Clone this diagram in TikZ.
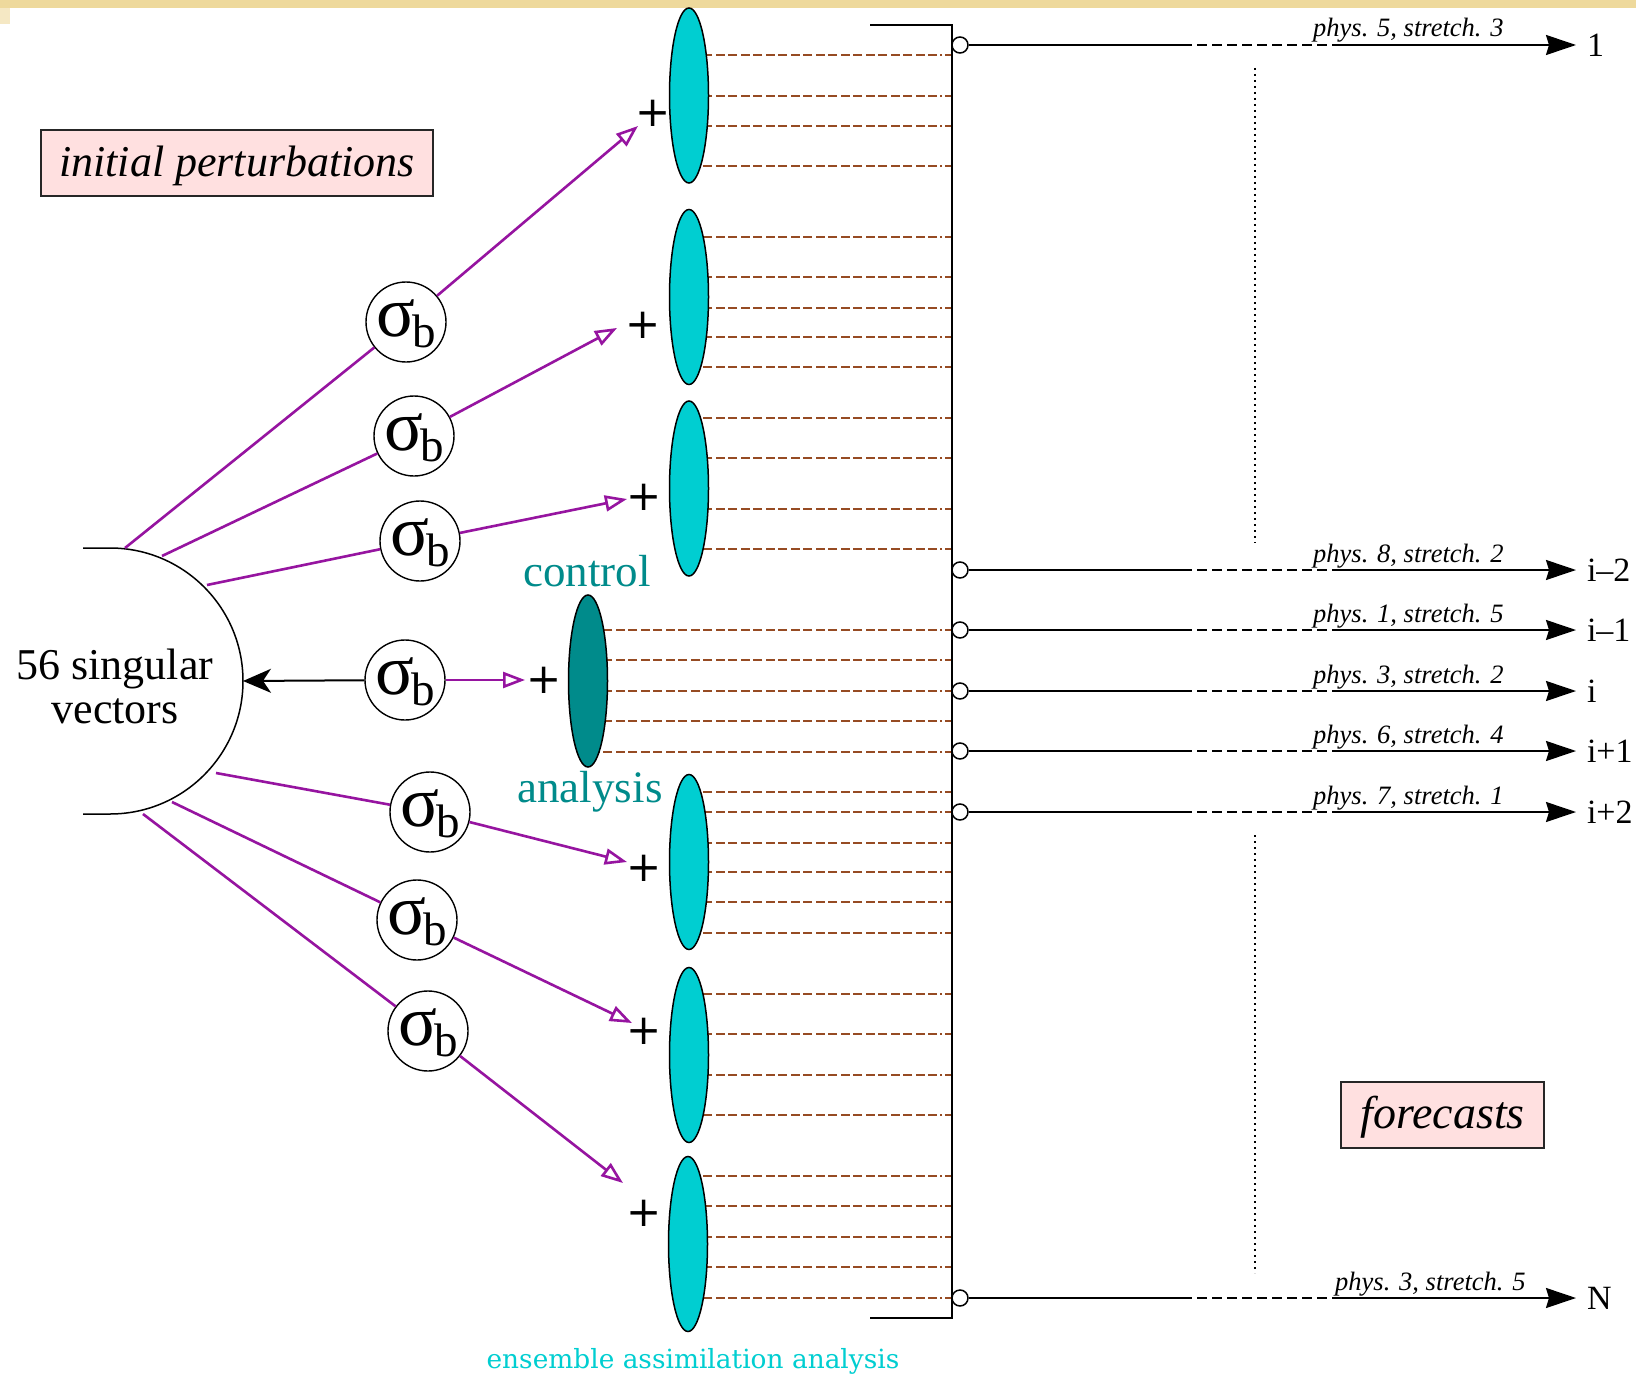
\documentclass[tikz,border=0pt]{standalone}
\usepackage{fontspec}
\setmainfont{Liberation Serif}
\newfontfamily\dvsans{DejaVu Sans}
\newfontfamily\dvserif{DejaVu Serif}
\usetikzlibrary{arrows.meta,shapes.geometric}
\definecolor{ecyan}{RGB}{0,206,209}
\definecolor{edark}{RGB}{0,139,139}
\definecolor{ebrown}{RGB}{150,75,35}
\definecolor{epurple}{RGB}{150,20,160}
\definecolor{epink}{RGB}{255,224,224}
\definecolor{eband}{RGB}{238,217,156}
\newcommand{\fs}[1]{\fontsize{#1}{#1}\selectfont}
\newcommand{\sigb}{{\fs{72}σ}\kern-3pt\raisebox{-11pt}{\fs{47}b}}
\newcommand{\brline}[2]{%
  \draw[brn] (952,#1) -- (945,#1);
  \draw[brn] (942,#1) -- (940,#1);
  \draw[brn, dash pattern=on 9pt off 3.5pt] (937,#1) -- (#2,#1);}
\newcommand{\outrow}[5]{%
  \node[outc] (o#1) at (960,#2) {};
  \coordinate (a#1) at (1182,#2);
  \coordinate (b#1) at (1335,#2);
  \node[endl] (r#1) at (1576,#2) {#5};
  \draw[oln] (o#1) -- (a#1);
  \draw[oln, dash pattern=on 10pt off 5pt] (a#1) -- (b#1);
  \draw[oln, -{Stealth[length=30pt,width=20pt,inset=3pt]}] (b#1) -- (r#1.west);
  \node[labn] (l#1) at (#3,#2-8) {#4};}
\begin{document}
\begin{tikzpicture}[x=1pt,y=-1pt,
  ens/.style={ellipse, draw=black, line width=1.5pt, fill=ecyan, minimum width=39pt, minimum height=175pt, inner sep=0pt},
  ensd/.style={ens, fill=edark, minimum height=172pt},
  sigc/.style={circle, draw=black, line width=1.4pt, minimum size=80pt, inner sep=0pt, text height=31pt, text depth=3pt},
  pl/.style={font=\dvsans\fs{42}, inner sep=0pt},
  purp/.style={draw=epurple, line width=2.6pt},
  parr/.style={purp, -{Triangle[open, length=22pt, width=16pt]}},
  barr/.style={draw=black, line width=2pt, -{Stealth[length=28pt,width=24pt,inset=8pt]}},
  brn/.style={draw=ebrown, line width=2.6pt},
  outc/.style={circle, draw=black, line width=1.5pt, minimum size=16pt, inner sep=0pt, fill=white},
  oln/.style={draw=black, line width=2pt},
  endl/.style={anchor=west, inner sep=0pt, outer sep=11pt, font=\fs{34}},
  labn/.style={anchor=base west, inner sep=0pt, font=\itshape\fs{26.5}},
  dotl/.style={draw=black, line width=1.6pt, dash pattern=on 2pt off 4pt},
  pbox/.style={draw=black!85, line width=1.5pt, fill=epink, inner sep=0pt}
]
\useasboundingbox (0,0) rectangle (1636,1375);
\fill[white] (0,0) rectangle (1636,1375);
\fill[eband] (0,0) rectangle (1636,8);
\fill[eband!60] (0,8) rectangle (10,24);

% brown hatch lines
\foreach \y in {55,96,126,166,237,277,308,337,367,418,458,509,549,792,812,843,872,902,933,994,1034,1075,1115,1176,1206,1237,1267,1298} {\brline{\y}{689}}
\foreach \y in {630,660,691,721,752} {\brline{\y}{588}}

% ellipses
\node[ens] (e1) at (689,95.5) {};
\node[ens] (e2) at (689,297) {};
\node[ens] (e3) at (689,488.5) {};
\node[ensd] (ed) at (588,681) {};
\node[ens] (e4) at (689,862) {};
\node[ens] (e5) at (689,1055) {};
\node[ens] (e6) at (688,1244) {};

% bar
\draw[line width=2pt] (870,25) -- (952,25) -- (952,1318) -- (870,1318);

% singular vectors half circle
\draw[line width=1.5pt] (83,548) -- (110,548) arc[start angle=-90, end angle=90, radius=133] -- (83,814);
\coordinate (svR) at (243,681);
\node[font=\fs{44}, align=center, inner sep=0pt, baseline=38pt] (sv) at (115,686) {\fontsize{44}{38}\selectfont 56 singular\\vectors};

% sigma circles
\node[sigc] (c1) at (406,322) {\sigb};
\node[sigc] (c2) at (414,436) {\sigb};
\node[sigc] (c3) at (420,541) {\sigb};
\node[sigc] (c4) at (405,680) {\sigb};
\node[sigc] (c5) at (430,812) {\sigb};
\node[sigc] (c6) at (417,920) {\sigb};
\node[sigc] (c7) at (428,1031) {\sigb};

% start points on half circle
\coordinate (s1) at (125,548);
\coordinate (s2) at (162,556);
\coordinate (s3) at (207,585);
\coordinate (s5) at (216,773);
\coordinate (s6) at (172,802);
\coordinate (s7) at (143,814);
% tips
\coordinate (t1) at (638,126);
\coordinate (t2) at (617,328);
\coordinate (t3) at (627,499);
\coordinate (t4) at (525,680);
\coordinate (t5) at (627,862);
\coordinate (t6) at (632,1023);
\coordinate (t7) at (623,1183);

\draw[purp] (s1) -- (c1); \draw[parr] (c1) -- (t1);
\draw[purp] (s2) -- (c2); \draw[parr] (c2) -- (t2);
\draw[purp] (s3) -- (c3); \draw[parr] (c3) -- (t3);
\draw[parr] (c4) -- (t4);
\draw[barr] (c4) -- (svR);
\draw[purp] (s5) -- (c5); \draw[parr] (c5) -- (t5);
\draw[purp] (s6) -- (c6); \draw[parr] (c6) -- (t6);
\draw[purp] (s7) -- (c7); \draw[parr] (c7) -- (t7);

% plus signs
\node[pl] (p1) at (653,113) {+};
\node[pl] (p2) at (643,325) {+};
\node[pl] (p3) at (644,497) {+};
\node[pl] (p4) at (544,680) {+};
\node[pl] (p5) at (644,868) {+};
\node[pl] (p6) at (644,1031) {+};
\node[pl] (p7) at (644,1213) {+};

% texts
\node[font=\fs{45}, text=edark, anchor=base, inner sep=0pt] (ctl) at (587,586) {control};
\node[font=\fs{45}, text=edark, anchor=base, inner sep=0pt] (ana) at (590,802) {analysis};
\node[font=\dvserif\fs{26.4}, text=ecyan, anchor=base, inner sep=0pt] (ensl) at (693,1368) {ensemble assimilation analysis};
\node[pbox, minimum width=392pt, minimum height=66pt, text height=30pt, text depth=2pt, font=\itshape\fs{44}] (ip) at (237,163) {initial perturbations};
\node[pbox, minimum width=203pt, minimum height=66pt, text height=30pt, text depth=4pt, font=\itshape\fs{46}] (fc) at (1442.5,1115) {forecasts};

% dotted
\draw[dotl] (1255,68) -- (1255,543);
\draw[dotl] (1255,835) -- (1255,1273);

% outputs
\outrow{1}{45}{1313}{phys. 5, stretch. 3}{1}
\outrow{2}{570}{1313}{phys. 8, stretch. 2}{i–2}
\outrow{3}{630}{1313}{phys. 1, stretch. 5}{i–1}
\outrow{4}{691}{1313}{phys. 3, stretch. 2}{i}
\outrow{5}{751}{1313}{phys. 6, stretch. 4}{i+1}
\outrow{6}{812}{1313}{phys. 7, stretch. 1}{i+2}
\outrow{7}{1298}{1335}{phys. 3, stretch. 5}{N}
\end{tikzpicture}
\end{document}
